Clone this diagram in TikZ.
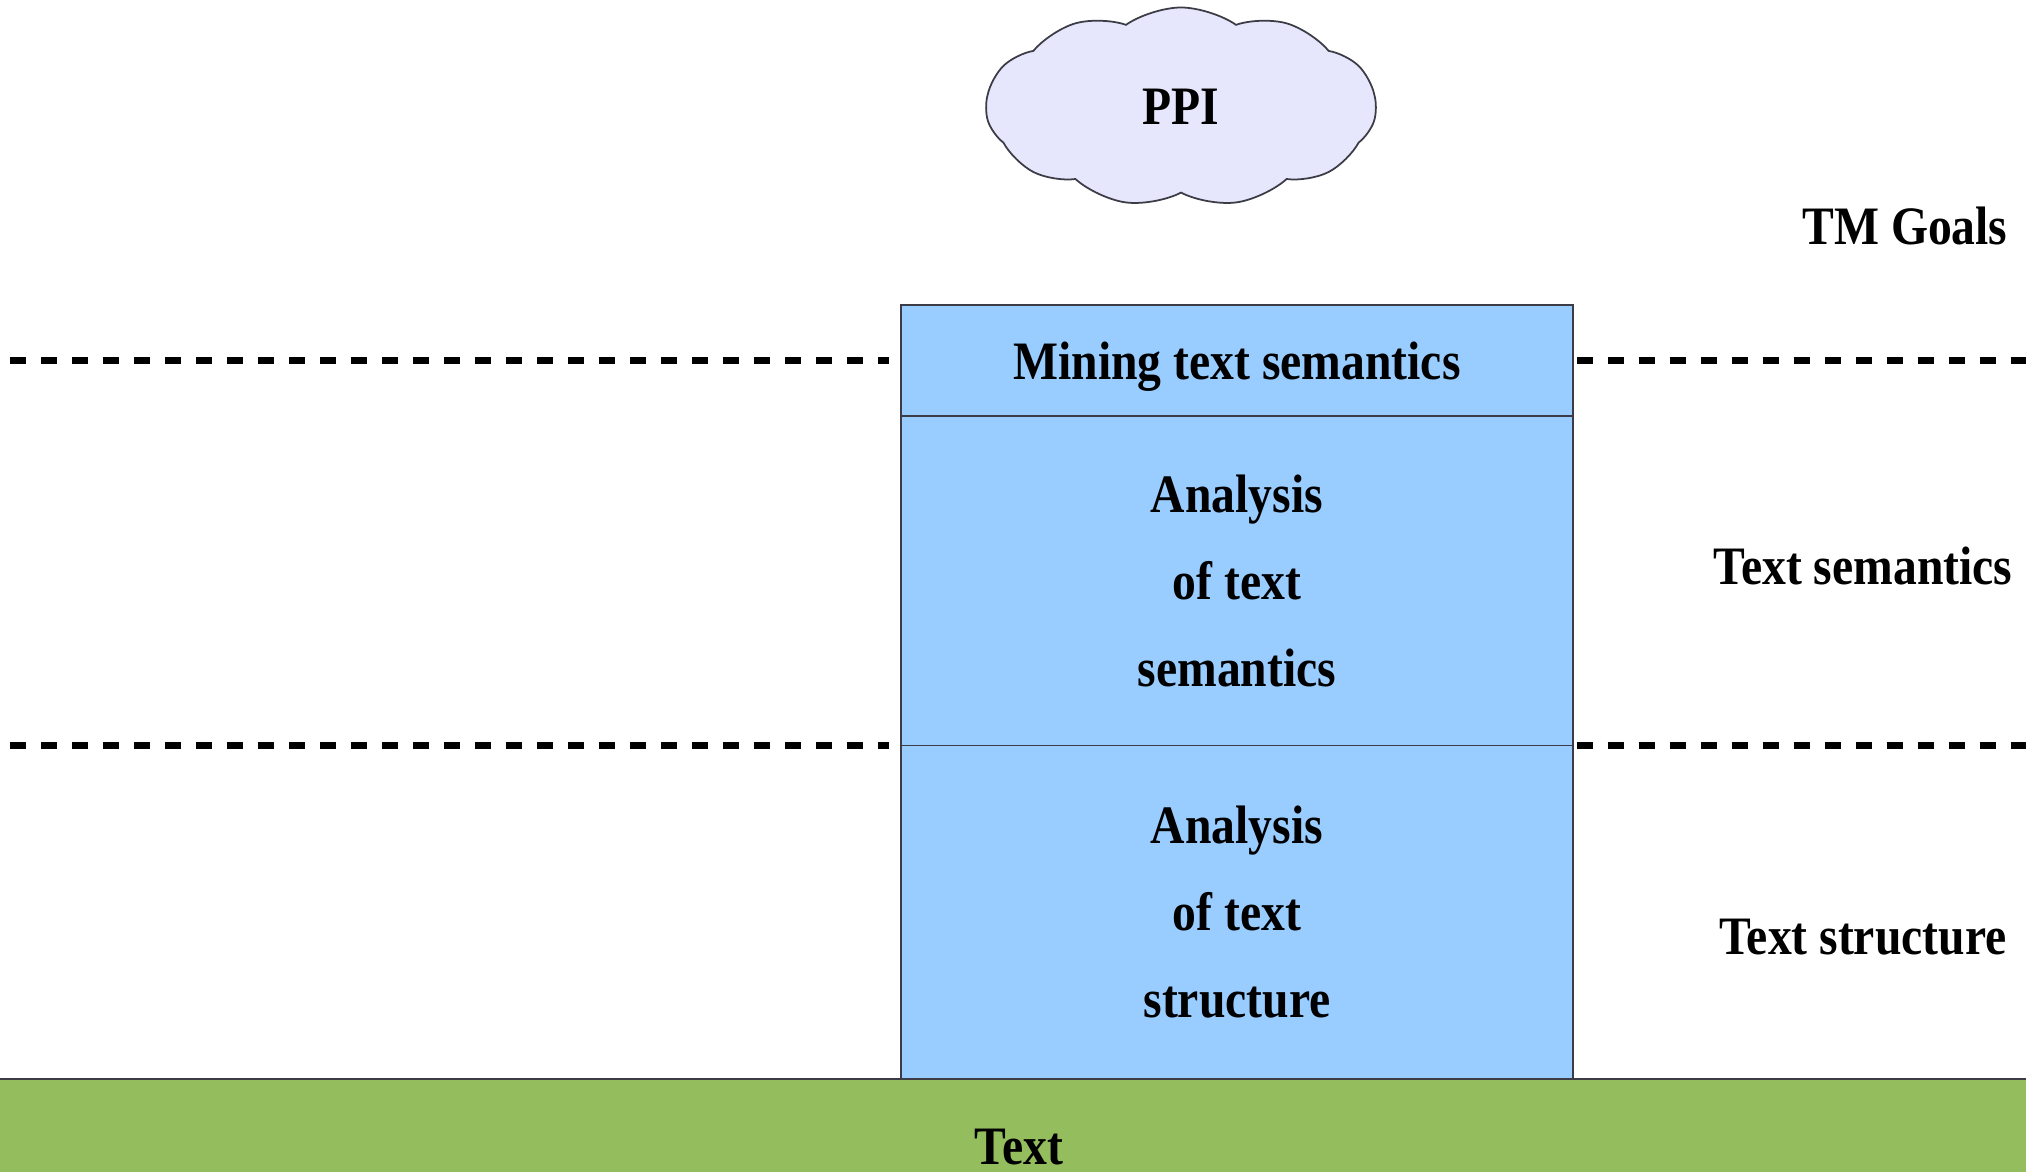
\documentclass[tikz,border=0pt]{standalone}
\usepackage{fontspec}
\setmainfont{Liberation Serif}[FakeStretch=0.88]
\usetikzlibrary{positioning,shapes.symbols}

\definecolor{boxblue}{RGB}{153,204,255}
\definecolor{grassgreen}{RGB}{148,189,94}
\definecolor{cloudlilac}{RGB}{230,230,252}
\definecolor{edgegray}{RGB}{60,60,70}

\begin{document}
\begin{tikzpicture}[
    lbl/.style={font=\bfseries\fontsize{15.4}{24.8}\selectfont, inner sep=0pt},
    sbox/.style={rectangle, draw=edgegray, fill=boxblue, line width=0.5pt,
                 minimum width=6.72cm, inner sep=0pt, outer sep=0pt,
                 align=center, font=\bfseries\fontsize{15.4}{24.8}\selectfont},
    cloudy/.style={cloud, cloud puffs=11, cloud puff arc=70, aspect=1.97,
                   draw=edgegray, fill=cloudlilac, line width=0.5pt,
                   minimum width=3.9cm, minimum height=1.99cm,
                   inner sep=0pt, font=\bfseries\fontsize{15.4}{24.8}\selectfont},
    dline/.style={line width=1.9pt, dash pattern=on 0.16cm off 0.15cm},
  ]
  \useasboundingbox (0,0) rectangle (20.26,11.72);

  % --- ground layer ---
  \node[fill=grassgreen, minimum width=20.26cm, minimum height=0.93cm,
        inner sep=0pt, outer sep=0pt, anchor=south west] (ground) at (0,0) {};
  \draw[edgegray, line width=0.5pt] (ground.north west) -- (ground.north east);
  \node[lbl] (txt) at (10.19,0.25) {Text};

  % --- stack ---
  \node[sbox, minimum height=3.335cm, anchor=south] (struct) at (12.37,0.93)
    {Analysis\\of text\\structure};
  \node[sbox, minimum height=3.295cm, above=0pt of struct] (sem)
    {Analysis\\of text\\semantics};
  \node[sbox, minimum height=1.11cm, text depth=0pt, above=0pt of sem] (mine)
    {Mining text semantics};

  % --- level borders ---
  \draw[dline] (0.1,0 |- mine.west) -- ([xshift=-1.2mm]mine.west);
  \draw[dline] ([xshift=0.35mm]mine.east) -- (20.26,0 |- mine.east);
  \draw[dline] (0.1,0 |- sem.south west) -- ([xshift=-1.2mm]sem.south west);
  \draw[dline] ([xshift=0.35mm]sem.south east) -- (20.26,0 |- sem.south east);

  % --- goal ---
  \node[cloudy] (ppi) at (11.81,10.65) {PPI};

  % --- level labels ---
  \node[lbl] (goals) at (19.05,9.46) {TM Goals};
  \node[lbl] (semlbl) at (18.63,6.06) {Text semantics};
  \node[lbl] (structlbl) at (18.63,2.35) {Text structure};

\end{tikzpicture}
\end{document}
